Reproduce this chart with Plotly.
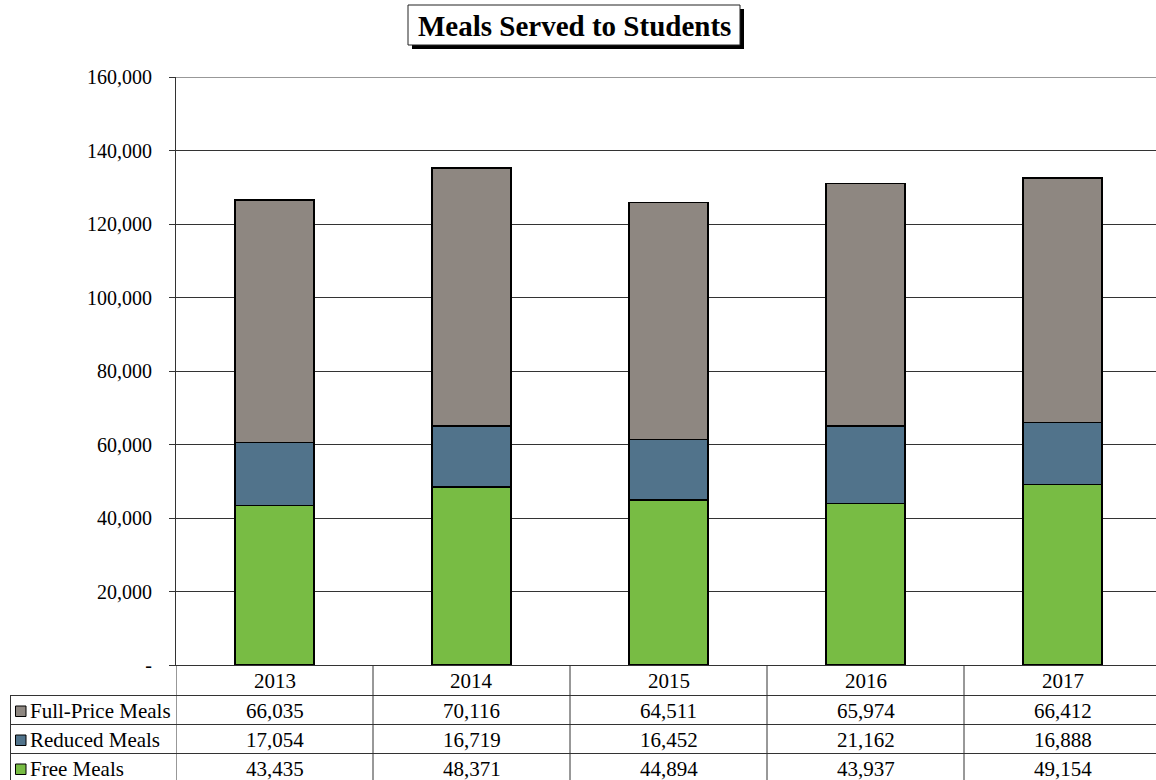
import plotly.graph_objects as go

years = ["2013", "2014", "2015", "2016", "2017"]
free_meals = [43435, 48371, 44894, 43937, 49154]
reduced_meals = [17054, 16719, 16452, 21162, 16888]
full_price_meals = [66035, 70116, 64511, 65974, 66412]
series_names = ["Full-Price Meals", "Reduced Meals", "Free Meals"]
y_ticks = [0, 20000, 40000, 60000, 80000, 100000, 120000, 140000, 160000]

colors = {"Free Meals": "#78BC44", "Reduced Meals": "#51738B", "Full-Price Meals": "#8E8781"}
FONT = "Liberation Serif, Times New Roman, serif"

W, H = 1156, 780
L, R, T, B = 176, 0, 77, 115
PW = W - L - R
PH = H - T - B
COL_PX = 197  # width of one category column in pixels (last column runs past the page edge)

def px_x(p):
    return (p - L) / PW

def px_y(p):
    return (H - B - p) / PH

fig = go.Figure()
xs = list(range(len(years)))
for name, vals in [("Free Meals", free_meals), ("Reduced Meals", reduced_meals),
                   ("Full-Price Meals", full_price_meals)]:
    fig.add_trace(go.Bar(x=xs, y=vals, name=name, width=0.40,
                         marker=dict(color=colors[name], line=dict(color="black", width=1.5)),
                         showlegend=False))

ticktext = ["-" if v == 0 else f"{v:,}" for v in y_ticks]

shapes = []
annotations = []
line_col = "#333333"

# top gridline at max tick
shapes.append(dict(type="line", xref="paper", yref="y", x0=0, x1=1, y0=y_ticks[-1], y1=y_ticks[-1],
                   line=dict(color=line_col, width=1), layer="below"))

# table horizontal lines
for p in [695.5, 724.5, 753.5]:
    shapes.append(dict(type="line", xref="paper", yref="paper", x0=px_x(10), x1=1,
                       y0=px_y(p), y1=px_y(p), line=dict(color=line_col, width=1)))
# left border of label column
shapes.append(dict(type="line", xref="paper", yref="paper", x0=px_x(10.5), x1=px_x(10.5),
                   y0=px_y(695.5), y1=px_y(790), line=dict(color=line_col, width=1)))
# vertical column lines
for i in range(len(years)):
    shapes.append(dict(type="line", xref="x", yref="paper", x0=i - 0.5, x1=i - 0.5,
                       y0=0, y1=px_y(790), line=dict(color=line_col, width=1)))

# header years
for i, yr in enumerate(years):
    annotations.append(dict(x=i, y=px_y(681), xref="x", yref="paper", text=yr, showarrow=False,
                            xanchor="center", yanchor="middle",
                            font=dict(family=FONT, size=21, color="black")))

row_centers = [711, 740, 769]
row_data = {"Full-Price Meals": full_price_meals, "Reduced Meals": reduced_meals, "Free Meals": free_meals}
for rc, name in zip(row_centers, series_names):
    shapes.append(dict(type="rect", xref="paper", yref="paper", x0=px_x(15.5), x1=px_x(26),
                       y0=px_y(rc + 5.5), y1=px_y(rc - 5), fillcolor=colors[name],
                       line=dict(color="black", width=1)))
    annotations.append(dict(x=px_x(28), y=px_y(rc), xref="paper", yref="paper", text=name,
                            showarrow=False, xanchor="left", yanchor="middle",
                            font=dict(family=FONT, size=21, color="black")))
    for i, v in enumerate(row_data[name]):
        annotations.append(dict(x=i, y=px_y(rc), xref="x", yref="paper", text=f"{v:,}",
                                showarrow=False, xanchor="center", yanchor="middle",
                                font=dict(family=FONT, size=21, color="black")))

# title box with shadow
shapes.append(dict(type="rect", xref="paper", yref="paper", x0=px_x(412), x1=px_x(744),
                   y0=px_y(49), y1=px_y(9), fillcolor="black", line=dict(width=0)))
shapes.append(dict(type="rect", xref="paper", yref="paper", x0=px_x(408), x1=px_x(740),
                   y0=px_y(45), y1=px_y(5), fillcolor="white", line=dict(color="#222222", width=1)))
annotations.append(dict(x=px_x(574), y=px_y(26), xref="paper", yref="paper",
                        text="<b>Meals Served to Students</b>", showarrow=False,
                        xanchor="center", yanchor="middle",
                        font=dict(family=FONT, size=29, color="black")))

fig.update_layout(
    width=W, height=H,
    margin=dict(l=L, r=R, t=T, b=B),
    barmode="stack",
    plot_bgcolor="white", paper_bgcolor="white",
    xaxis=dict(range=[-0.5, -0.5 + PW / COL_PX], showticklabels=False, showgrid=False,
               showline=True, linecolor=line_col, linewidth=1, zeroline=False, fixedrange=True),
    yaxis=dict(range=[0, 160000], tickvals=y_ticks, ticktext=ticktext, showgrid=True,
               gridcolor=line_col, gridwidth=1, showline=True, linecolor=line_col, linewidth=1,
               ticks="outside", ticklen=6, tickcolor=line_col, zeroline=False,
               ticklabelstandoff=13,
               tickfont=dict(family=FONT, size=20, color="black")),
    shapes=shapes,
    annotations=annotations,
)

fig.write_html("out.html")
